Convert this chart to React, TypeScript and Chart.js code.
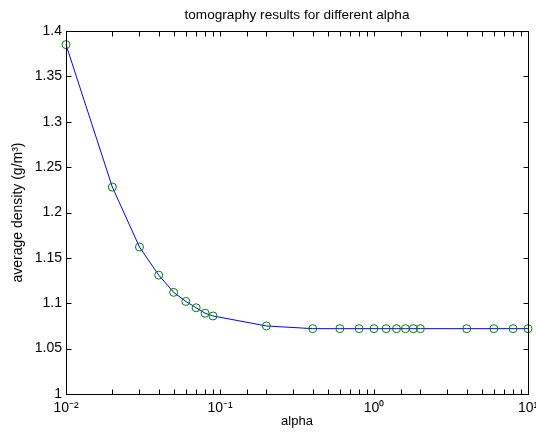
import React, { useEffect, useRef } from "react";
import { Chart, registerables } from "chart.js";

Chart.register(...registerables);

const alpha = [0.01, 0.02, 0.03, 0.04, 0.05, 0.06, 0.07, 0.08, 0.09, 0.2, 0.4, 0.6, 0.8, 1, 1.2, 1.4, 1.6, 1.8, 2, 4, 6, 8, 10];
const density = [1.385, 1.228, 1.162, 1.131, 1.112, 1.102, 1.095, 1.089, 1.086, 1.075, 1.072, 1.072, 1.072, 1.072, 1.072, 1.072, 1.072, 1.072, 1.072, 1.072, 1.072, 1.072, 1.072];
const xDecadeLabels: Record<string, string> = { "0.01": "10\u207B\u00B2", "0.1": "10\u207B\u00B9", "1": "10\u2070", "10": "10\u00B9" };
const titleText = "tomography results for different alpha";
const xTitle = "alpha";
const yTitle = "average density (g/m\u00B3)";

const FONT = "'Liberation Sans', Arial, Helvetica, sans-serif";

const boxTicks = {
  id: "boxTicks",
  afterDraw(chart: any) {
    const { ctx, chartArea: a, scales } = chart;
    const xs = scales.x, ys = scales.y;
    const L = 5;
    ctx.save();
    ctx.strokeStyle = "#000";
    ctx.lineWidth = 1;
    const l = Math.round(a.left) + 0.5, r = Math.round(a.right) + 0.5;
    const t = Math.round(a.top) + 0.5, b = Math.round(a.bottom) + 0.5;
    ctx.strokeRect(l, t, r - l, b - t);
    ctx.beginPath();
    xs.ticks.forEach((tk: any) => {
      const px = Math.round(xs.getPixelForValue(tk.value)) + 0.5;
      ctx.moveTo(px, b); ctx.lineTo(px, b - L);
      ctx.moveTo(px, t); ctx.lineTo(px, t + L);
    });
    ys.ticks.forEach((tk: any) => {
      const py = Math.round(ys.getPixelForValue(tk.value)) + 0.5;
      ctx.moveTo(l, py); ctx.lineTo(l + L, py);
      ctx.moveTo(r, py); ctx.lineTo(r - L, py);
    });
    ctx.stroke();
    // title centred over the plot area
    ctx.fillStyle = "#000";
    ctx.font = `13.6px ${FONT}`;
    ctx.textAlign = "center";
    ctx.textBaseline = "middle";
    ctx.fillText(titleText, (a.left + a.right) / 2, 15);
    ctx.restore();
  },
};

export default function App() {
  const ref = useRef<HTMLCanvasElement>(null);
  useEffect(() => {
    if (!ref.current) return;
    const chart = new Chart(ref.current, {
      type: "line",
      data: {
        datasets: [
          {
            data: alpha.map((x, i) => ({ x, y: density[i] })),
            borderColor: "#0000ff",
            borderWidth: 1,
            pointStyle: "circle",
            pointRadius: 4,
            pointBorderColor: "#008000",
            pointBackgroundColor: "rgba(0,0,0,0)",
            pointBorderWidth: 1,
            tension: 0,
            clip: false as any,
          },
        ],
      },
      options: {
        responsive: false,
        animation: false,
        layout: { padding: { left: 0, right: 8, top: 31, bottom: 0 } },
        plugins: {
          legend: { display: false },
          tooltip: { enabled: false },
          title: { display: false },
        },
        scales: {
          x: {
            type: "logarithmic",
            min: 0.01,
            max: 10,
            grid: { display: false, drawTicks: false },
            border: { display: false },
            ticks: {
              autoSkip: false,
              maxRotation: 0,
              padding: 6,
              color: "#000",
              font: { family: FONT, size: 14 },
              callback: (v: any) => {
                const key = String(parseFloat(Number(v).toPrecision(6)));
                return xDecadeLabels[key] ?? "";
              },
            },
            title: {
              display: true,
              text: xTitle,
              color: "#000",
              font: { family: FONT, size: 13 },
              padding: { top: 10, bottom: 10 },
            },
            afterFit: (s: any) => {
              s.height = 45;
              s.paddingLeft = 0;
              s.paddingRight = 0;
            },
          },
          y: {
            type: "linear",
            min: 1,
            max: 1.4,
            grid: { display: false, drawTicks: false },
            border: { display: false },
            ticks: {
              stepSize: 0.05,
              padding: 4,
              color: "#000",
              font: { family: FONT, size: 14 },
              callback: (v: any) => String(parseFloat(Number(v).toFixed(2))),
            },
            title: {
              display: true,
              text: yTitle,
              color: "#000",
              font: { family: FONT, size: 14 },
              padding: { top: 10, bottom: 10 },
            },
            afterFit: (s: any) => {
              s.width = 66;
              s.paddingTop = 0;
              s.paddingBottom = 0;
            },
          },
        },
      },
      plugins: [boxTicks],
    });
    return () => chart.destroy();
  }, []);
  return (
    <div style={{ position: "absolute", left: 0, top: 0, width: 536, height: 439, background: "#fff" }}>
      <canvas ref={ref} width={536} height={439} style={{ display: "block", width: 536, height: 439 }} />
    </div>
  );
}
